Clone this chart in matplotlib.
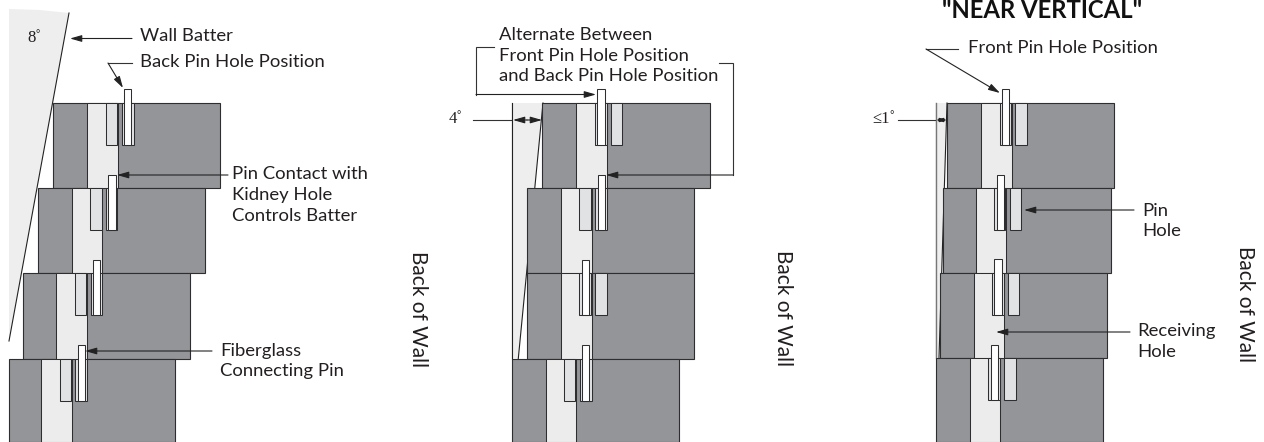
import matplotlib
matplotlib.use('Agg')
import matplotlib.pyplot as plt
from matplotlib.patches import Rectangle, Polygon

label_font = 'Lato'
serif_font = 'Liberation Serif'

block_color = '#939598'
recv_color = '#ececed'
hole_color = '#e1e2e4'
wall_color = '#eeeeef'
edge_color = '#2e2e30'

# rows of blocks, top to bottom (picture pixels)
row_edges_1 = [102.5, 188, 273, 358.5, 442]
row_edges_2 = [102.5, 188, 273, 358.5, 442]
row_edges_3 = [102.5, 188, 272.5, 357.5, 442]

# left edge of each block
block_left_1 = [53, 37.5, 22.5, 9]
block_left_2 = [542, 527, 527, 511.5]
block_left_3 = [947, 943, 939.5, 936]

block_right_1 = [220, 205, 189.5, 174.5]
block_right_2 = [709.5, 694, 694, 678.5]
block_right_3 = [1114, 1110.5, 1106.5, 1103]

recv_left_1 = [87, 71.5, 56, 41]
recv_left_2 = [576, 561, 561, 545.5]
recv_left_3 = [981, 975.5, 973.5, 969.5]

front_hole_1 = [105.5, 90, 74.5, 59.5]
front_hole_2 = [595, 579, 579, 563.5]
front_hole_3 = [999.5, 993.5, 992, 988]

back_hole_1 = [122, 105.5, 90.5, 75]
back_hole_2 = [610.5, 595, 595, 580]
back_hole_3 = [1015, 1009.5, 1007.5, 1004]

pin_left_1 = [123.5, 108, 92.5, 77.5]
pin_left_2 = [597, 597.5, 581.5, 581.5]
pin_left_3 = [1001.5, 996.5, 994, 990.5]

pin_top_1 = [89, 174.5, 260, 345]
pin_top_2 = [89, 174.5, 260, 345]
pin_top_3 = [89, 174.5, 259, 344.5]

pin_bottom_1 = [145, 230, 315, 401]
pin_bottom_2 = [145, 230, 315, 401]
pin_bottom_3 = [145, 230, 315, 400]

recv_w = 30.5
hole_w = 11.5
pin_w = 7.5

fig = plt.figure(figsize=(12.64, 4.42), dpi=100)
ax = fig.add_axes([0, 0, 1, 1])
ax.set_xlim(0, 1264)
ax.set_ylim(442, 0)
ax.axis('off')


def draw_wall(rows, lefts, rights, recvs, fronts, backs, pins, tops, bottoms):
    for i in range(4):
        y0, y1 = rows[i], rows[i + 1]
        ax.add_patch(Rectangle((lefts[i], y0), rights[i] - lefts[i], y1 - y0,
                               fc=block_color, ec=edge_color, lw=0.8, zorder=2))
        ax.add_patch(Rectangle((recvs[i], y0), recv_w, y1 - y0,
                               fc=recv_color, ec=edge_color, lw=0.75, zorder=3))
        for hole in (fronts[i], backs[i]):
            ax.add_patch(Rectangle((hole, y0), hole_w, bottoms[i] - y0,
                                   fc=hole_color, ec=edge_color, lw=0.75, zorder=4))
    for i in range(4):
        ax.add_patch(Rectangle((pins[i], tops[i]), pin_w, bottoms[i] - tops[i],
                               fc='white', ec=edge_color, lw=0.75, zorder=5))


def arrow(start, end, scale=10):
    ax.annotate('', xy=end, xytext=start, zorder=6,
                arrowprops=dict(arrowstyle='-|>,head_length=0.7,head_width=0.2',
                                mutation_scale=scale, color='#222222', lw=0.8,
                                shrinkA=0, shrinkB=0))


def leader(xs, ys):
    ax.plot(xs, ys, color='#333333', lw=0.8, zorder=6, solid_joinstyle='miter')


def label(x, y, s):
    ax.text(x, y, s, family=label_font, fontsize=13.3, color='#231f20',
            va='center', ha='left', zorder=7)


def side_label(x, y, s):
    ax.text(x, y, s, family=label_font, fontsize=15, color='#231f20',
            va='center', ha='center', rotation=270, zorder=7)


# wall batter wedges behind the blocks
ax.add_patch(Polygon([(9, 9), (40, 10), (69, 13), (9, 341)], fc=wall_color, ec='none', zorder=1))
ax.plot([69, 9], [13, 341], color='#222222', lw=0.8, zorder=1.5)
ax.add_patch(Polygon([(511.5, 103), (543, 103), (518.3, 358.5), (511.5, 358.5)], fc=wall_color, ec='none', zorder=1))
ax.plot([511.5, 511.5], [103, 358.5], color='#222222', lw=0.8, zorder=1.5)
ax.plot([543, 518.3], [103, 358.5], color='#222222', lw=0.8, zorder=1.5)
ax.add_patch(Polygon([(935.5, 103), (947, 103), (939, 357.5), (935.5, 357.5)], fc=wall_color, ec='none', zorder=1))
ax.plot([935.5, 935.5], [103, 357.5], color='#777777', lw=1, zorder=1.5)
ax.plot([947, 939], [103, 357.5], color='#222222', lw=0.8, zorder=1.5)

draw_wall(row_edges_1, block_left_1, block_right_1, recv_left_1, front_hole_1, back_hole_1,
          pin_left_1, pin_top_1, pin_bottom_1)
draw_wall(row_edges_2, block_left_2, block_right_2, recv_left_2, front_hole_2, back_hole_2,
          pin_left_2, pin_top_2, pin_bottom_2)
draw_wall(row_edges_3, block_left_3, block_right_3, recv_left_3, front_hole_3, back_hole_3,
          pin_left_3, pin_top_3, pin_bottom_3)

# callouts, panel 1
arrow((132, 38.5), (70, 38.5))
leader([132, 108], [63, 63])
arrow((108, 63), (123, 88))
arrow((228, 175), (117, 175))
arrow((212, 351), (85, 351))
label(140, 36, 'Wall Batter')
label(140, 62, 'Back Pin Hole Position')
label(232, 174, 'Pin Contact with')
label(232, 195, 'Kidney Hole')
label(232, 216, 'Controls Batter')
label(220, 351, 'Fiberglass')
label(220, 371, 'Connecting Pin')
side_label(418, 309, 'Back of Wall')

# panel 2
leader([494, 476, 476], [46.5, 46.5, 94.5])
arrow((476, 94.5), (596, 94.5))
leader([719, 733, 733], [62.5, 62.5, 175])
arrow((733, 175), (606, 175))
leader([473, 511], [120, 120])
arrow((527, 120), (513, 120))
arrow((527, 120), (542, 120))
label(499, 35, 'Alternate Between')
label(499, 56, 'Front Pin Hole Position')
label(499, 76, 'and Back Pin Hole Position')
side_label(783, 308, 'Back of Wall')

# panel 3
leader([958, 926], [49, 49])
arrow((926, 49), (1000, 93))
leader([898, 935], [120, 120])
arrow((941.5, 120), (936, 120), scale=6)
arrow((941.5, 120), (947, 120), scale=6)
arrow((1134, 210), (1024, 210))
arrow((1130, 332), (996, 332))
label(968, 48, 'Front Pin Hole Position')
label(1142, 211, 'Pin')
label(1142, 231, 'Hole')
label(1137, 331, 'Receiving')
label(1137, 352, 'Hole')
side_label(1245, 304, 'Back of Wall')

ax.text(1042, 17.5, '"NEAR VERTICAL"', family=label_font, fontsize=17.2, fontweight='bold',
        color='#111111', ha='center', va='baseline', zorder=7)

ax.text(27, 38, '8˚', family=serif_font, fontsize=12, color='#231f20', va='center', zorder=7)
ax.text(449, 119, '4˚', family=serif_font, fontsize=12, color='#231f20', va='center', zorder=7)
ax.text(872, 119, '≤1˚', family=serif_font, fontsize=12, color='#231f20', va='center', zorder=7)

fig.savefig('out.png', dpi=100)
